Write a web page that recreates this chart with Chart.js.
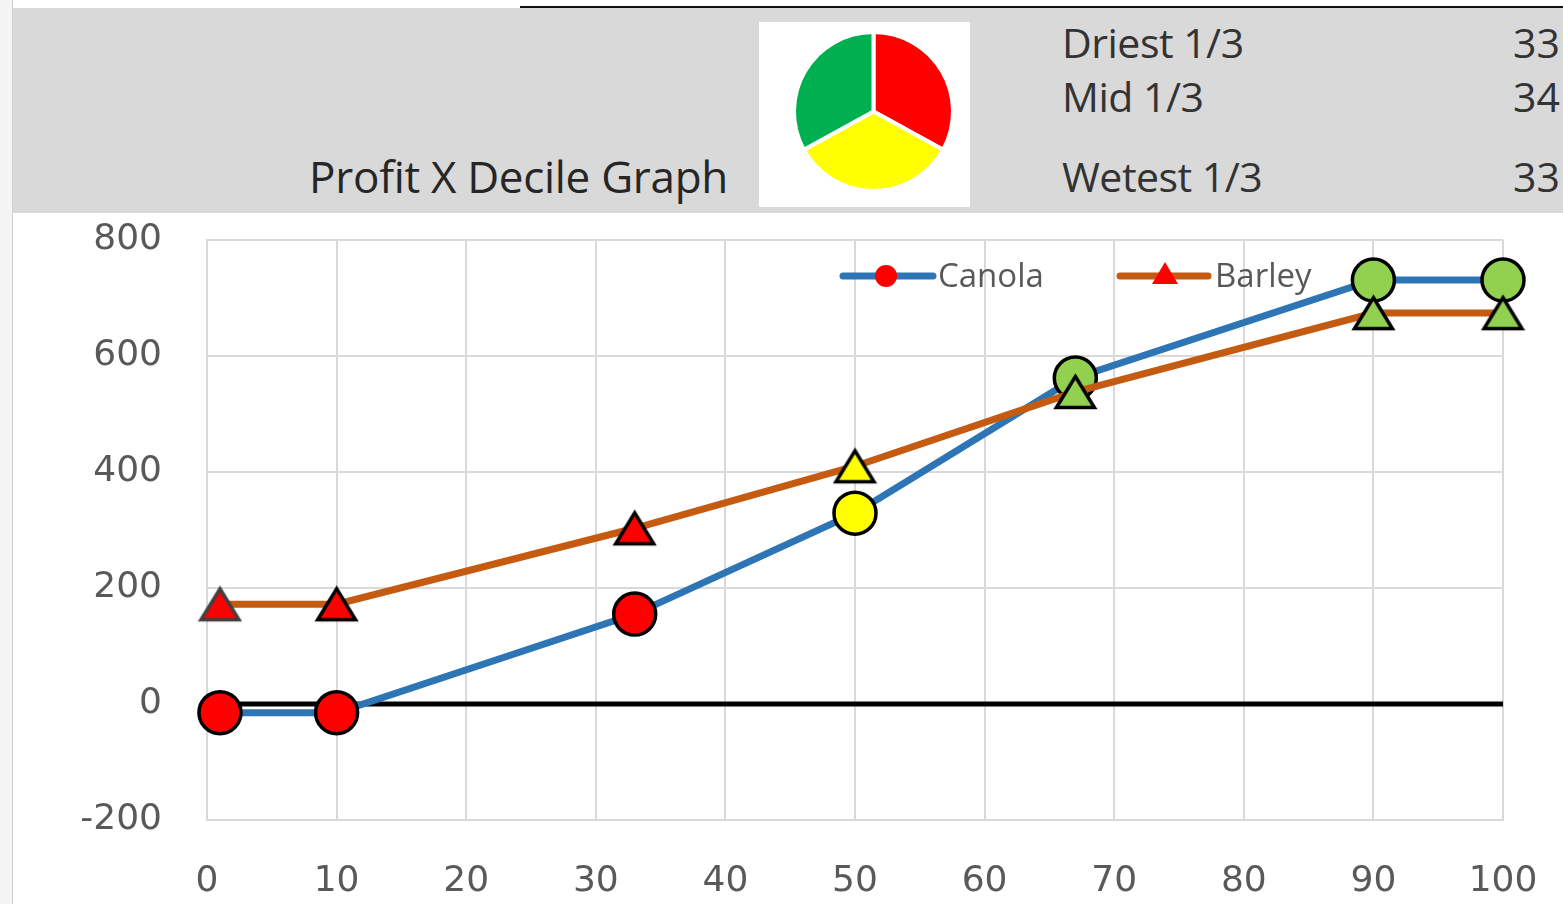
<!DOCTYPE html>
<html>
<head>
<meta charset="utf-8">
<script src="https://cdn.jsdelivr.net/npm/chart.js@4.4.0/dist/chart.umd.min.js"></script>
<style>
  body { margin: 0; width: 1563px; height: 904px; overflow: hidden; position: relative; background: #fff; font-family: 'Open Sans', sans-serif; }
  #side { position: absolute; left: 0; top: 0; width: 12px; height: 904px; background: #f4f4f4; border-right: 1px solid #d0d0d0; }
  #header { position: absolute; left: 13px; top: 8px; width: 1550px; height: 205px; background: #d9d9d9; overflow: hidden; }
  #topline { position: absolute; left: 520px; top: 6px; width: 1043px; height: 2px; background: #111; }
  #title { position: absolute; right: 835px; top: 138px; font-size: 44px; color: #262626; white-space: nowrap; letter-spacing: -0.3px; }
  #pieBox { position: absolute; left: 746px; top: 14px; width: 211px; height: 185px; background: #fff; }
  .zone { position: absolute; left: 1049px; font-size: 41px; color: #333; white-space: nowrap; letter-spacing: -0.5px; }
  .share { position: absolute; left: 1500px; font-size: 41px; color: #333; }
  #main { position: absolute; left: 13px; top: 213px; width: 1550px; height: 691px; }
</style>
</head>
<body>
<div id="side"></div>
<div id="header">
  <div id="title">Profit X Decile Graph</div>
  <div id="pieBox"><canvas id="pie"></canvas></div>
</div>
<div id="topline"></div>
<div id="main"><canvas id="chart"></canvas></div>

<script>
// rainfall thirds shown in the header
const zoneLabels = ['Driest 1/3', 'Mid 1/3', 'Wetest 1/3'];
const zoneShares = [33, 34, 33];
const zoneColors = ['#FF0000', '#FFFF00', '#00B050'];

// decile graph
const deciles = [1, 10, 33, 50, 67, 90, 100];
const canola = [-15, -15, 155, 329, 562, 731, 731];
const barley = [172, 172, 303, 410, 538, 674, 674];
const pointFills = ['#FF0000', '#FF0000', '#FF0000', '#FFFF00', '#92D050', '#92D050', '#92D050'];
const zeroX = [0, 100];
const zeroY = [0, 0];

const xTicks = [0, 10, 20, 30, 40, 50, 60, 70, 80, 90, 100];
const yTicks = [-200, 0, 200, 400, 600, 800];

const textGrey = '#595959';
const gridGrey = '#d9d9d9';

// header labels
const zoneTops = [6, 60, 140];
zoneLabels.forEach((label, i) => {
  const z = document.createElement('div');
  z.className = 'zone';
  z.style.top = zoneTops[i] + 'px';
  z.textContent = label;
  document.getElementById('header').appendChild(z);
  const s = document.createElement('div');
  s.className = 'share';
  s.style.top = zoneTops[i] + 'px';
  s.textContent = zoneShares[i];
  document.getElementById('header').appendChild(s);
});

new Chart(document.getElementById('pie'), {
  type: 'pie',
  data: {
    labels: zoneLabels,
    datasets: [{
      data: zoneShares,
      backgroundColor: zoneColors,
      borderColor: '#fff',
      borderWidth: 4
    }]
  },
  options: {
    responsive: true,
    maintainAspectRatio: false,
    animation: false,
    events: [],
    layout: { padding: { left: 18, right: 0, top: 8, bottom: 14 } },
    plugins: { legend: { display: false }, tooltip: { enabled: false } }
  }
});

// centred triangle marker like Excel's
function triangle(fill, stroke, w, h, lw) {
  const c = document.createElement('canvas');
  c.width = w + lw * 2;
  c.height = h + lw * 2;
  const ctx = c.getContext('2d');
  ctx.beginPath();
  ctx.moveTo(c.width / 2, lw);
  ctx.lineTo(c.width - lw, c.height - lw);
  ctx.lineTo(lw, c.height - lw);
  ctx.closePath();
  ctx.fillStyle = fill;
  ctx.fill();
  if (stroke) {
    ctx.lineWidth = lw;
    ctx.lineJoin = 'miter';
    ctx.strokeStyle = stroke;
    ctx.stroke();
  }
  return c;
}

const barleyMarkers = pointFills.map((f, i) => triangle(f, i === 0 ? '#404040' : '#000', 38, 31, 3.5));
const legendTri = triangle('#FF0000', null, 26, 22, 0);

const legendPlugin = {
  id: 'legendInside',
  afterDraw(chart) {
    const ctx = chart.ctx;
    const a = chart.chartArea;
    const y = a.top + 36;
    ctx.save();
    ctx.lineCap = 'round';
    ctx.lineWidth = 7;
    // Canola
    ctx.strokeStyle = '#2E75B6';
    ctx.beginPath(); ctx.moveTo(a.left + 636, y); ctx.lineTo(a.left + 726, y); ctx.stroke();
    ctx.fillStyle = '#FF0000';
    ctx.beginPath(); ctx.arc(a.left + 679, y, 11, 0, Math.PI * 2); ctx.fill();
    // Barley
    ctx.strokeStyle = '#C55A11';
    ctx.beginPath(); ctx.moveTo(a.left + 913, y); ctx.lineTo(a.left + 1001, y); ctx.stroke();
    ctx.drawImage(legendTri, a.left + 958 - legendTri.width / 2, y - 14);
    ctx.fillStyle = textGrey;
    ctx.font = '33px "Open Sans"';
    ctx.textBaseline = 'middle';
    ctx.fillText('Canola', a.left + 731, y + 2);
    ctx.fillText('Barley', a.left + 1008, y + 2);
    ctx.restore();
  }
};

new Chart(document.getElementById('chart'), {
  type: 'line',
  data: {
    datasets: [
      {
        label: 'Canola',
        data: deciles.map((d, i) => ({ x: d, y: canola[i] })),
        borderColor: '#2E75B6',
        borderWidth: 7,
        pointRadius: 21,
        pointBorderWidth: 3.5,
        pointBorderColor: '#000',
        pointBackgroundColor: pointFills,
        clip: false,
        order: 2
      },
      {
        label: 'Barley',
        data: deciles.map((d, i) => ({ x: d, y: barley[i] })),
        borderColor: '#C55A11',
        borderWidth: 7,
        pointStyle: barleyMarkers,
        pointRadius: 20,
        clip: false,
        order: 1
      },
      {
        label: 'zero',
        data: zeroX.map((d, i) => ({ x: d, y: zeroY[i] })),
        borderColor: '#000',
        borderWidth: 5,
        pointRadius: 0,
        order: 3
      }
    ]
  },
  options: {
    responsive: true,
    maintainAspectRatio: false,
    animation: false,
    events: [],
    layout: { autoPadding: false, padding: { top: 27, right: 60, left: 0, bottom: 0 } },
    plugins: { legend: { display: false }, tooltip: { enabled: false } },
    scales: {
      x: {
        type: 'linear',
        min: xTicks[0],
        max: xTicks[xTicks.length - 1],
        afterBuildTicks(s) { s.ticks = xTicks.map(v => ({ value: v })); },
        afterFit(s) { s.height = 84; },
        grid: { color: gridGrey, lineWidth: 2, drawTicks: true, tickLength: 38, tickColor: 'rgba(0,0,0,0)' },
        border: { color: gridGrey, width: 2 },
        ticks: { color: textGrey, padding: 2, font: { family: 'DejaVu Sans', size: 36 } }
      },
      y: {
        min: yTicks[0],
        max: yTicks[yTicks.length - 1],
        afterBuildTicks(s) { s.ticks = yTicks.map(v => ({ value: v })); },
        afterFit(s) { s.width = 194; },
        grid: { color: gridGrey, lineWidth: 2, drawTicks: true, tickLength: 43, tickColor: 'rgba(0,0,0,0)' },
        border: { color: gridGrey, width: 2 },
        ticks: { color: textGrey, padding: 2, font: { family: 'DejaVu Sans', size: 36 } }
      }
    }
  },
  plugins: [legendPlugin]
});
</script>
</body>
</html>
